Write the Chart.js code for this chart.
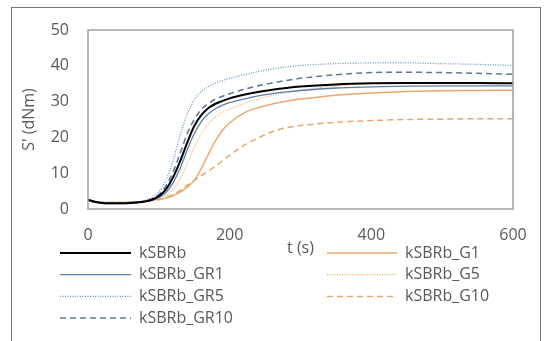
<!DOCTYPE html>
<html>
<head>
<meta charset="utf-8">
<script src="https://cdn.jsdelivr.net/npm/chart.js@4.4.1/dist/chart.umd.min.js"></script>
<style>
  html, body { margin: 0; padding: 0; background: #fff; }
  #wrap { width: 548px; height: 341px; }
</style>
</head>
<body>
<div id="wrap"><canvas id="cureChart" width="548" height="341"></canvas></div>
<script>
// cure curves, torque S' (dNm) against time t (s)
const times = [0, 10, 20, 40, 60, 80, 90, 100, 110, 120, 130, 140, 150, 160, 170, 180, 190, 200, 220, 240, 260, 280, 300, 350, 400, 450, 500, 550, 600];

const kSBRb      = [2.6, 2.0, 1.7, 1.6, 1.7, 2.1, 2.6, 3.6, 5.5, 8.8, 13.3, 18.5, 23.2, 26.2, 28.2, 29.4, 30.2, 30.9, 31.9, 32.7, 33.3, 33.8, 34.2, 34.8, 35.1, 35.2, 35.2, 35.2, 35.1];
const kSBRb_GR1  = [2.4, 1.9, 1.6, 1.5, 1.6, 2.0, 2.4, 3.2, 4.6, 7.3, 11.3, 16.5, 21.0, 24.4, 26.6, 28.0, 29.0, 29.7, 30.7, 31.6, 32.2, 32.7, 33.1, 33.8, 34.1, 34.3, 34.4, 34.4, 34.4];
const kSBRb_GR5  = [2.8, 2.1, 1.8, 1.7, 1.8, 2.4, 3.2, 4.8, 8.0, 13.5, 20.5, 26.5, 30.5, 32.8, 34.2, 35.2, 35.9, 36.5, 37.5, 38.4, 39.1, 39.7, 40.1, 40.6, 40.8, 40.8, 40.6, 40.4, 40.1];
const kSBRb_GR10 = [2.6, 2.0, 1.8, 1.7, 1.8, 2.2, 2.8, 4.0, 6.4, 10.3, 15.5, 21.0, 25.0, 27.8, 29.5, 30.7, 31.5, 32.2, 33.4, 34.4, 35.2, 35.9, 36.5, 37.5, 38.1, 38.2, 38.1, 37.9, 37.6];
const kSBRb_G1   = [2.3, 1.9, 1.8, 1.8, 1.9, 2.2, 2.4, 2.7, 3.1, 3.7, 4.7, 6.1, 8.0, 11.3, 15.3, 19.1, 22.0, 24.1, 26.8, 28.3, 29.3, 30.1, 30.7, 31.8, 32.4, 32.8, 33.0, 33.1, 33.2];
const kSBRb_G5   = [2.4, 1.9, 1.8, 1.8, 1.9, 2.2, 2.5, 3.0, 3.8, 5.4, 8.3, 12.6, 17.2, 21.0, 23.8, 25.7, 27.0, 27.9, 29.4, 30.7, 31.7, 32.5, 33.2, 34.4, 35.0, 35.2, 35.3, 35.3, 35.3];
const kSBRb_G10  = [2.4, 2.0, 1.8, 1.8, 1.9, 2.1, 2.3, 2.6, 3.2, 4.0, 5.2, 6.6, 8.0, 9.3, 10.6, 12.0, 13.5, 15.0, 17.8, 19.8, 21.6, 22.7, 23.3, 24.2, 24.7, 25.0, 25.1, 25.2, 25.2];

const yTicks = [0, 10, 20, 30, 40, 50];
const xTicks = [0, 200, 400, 600];

const textColor = "#595959";
const fontFamily = "'Open Sans', sans-serif";

function pts(values) {
  return values.map((v, i) => ({ x: times[i], y: v }));
}

function series(label, values, color, width, dash) {
  return {
    label: label,
    data: pts(values),
    borderColor: color,
    borderWidth: width,
    borderDash: dash,
    pointRadius: 0,
    fill: false,
    cubicInterpolationMode: "monotone",
  };
}

// legend drawn in two columns like the original, frame around the whole chart
const framePlugin = {
  id: "frame",
  afterDraw(chart) {
    const c = chart.ctx;
    const area = chart.chartArea;
    c.save();
    c.strokeStyle = "#a0a0a0";
    c.lineWidth = 1.5;
    c.setLineDash([]);
    c.strokeRect(area.left, area.top, area.right - area.left, area.bottom - area.top);
    c.strokeStyle = "#767676";
    c.lineWidth = 1;
    c.strokeRect(11.5, 7.5, 529, 345);

    const cols = [
      { x0: 60, x1: 131, tx: 139, y: 253, items: [0, 1, 2, 3] },
      { x0: 327, x1: 397, tx: 405, y: 253, items: [4, 5, 6] },
    ];
    c.font = "16px " + fontFamily;
    c.fillStyle = textColor;
    c.textBaseline = "middle";
    cols.forEach((col) => {
      col.items.forEach((idx, row) => {
        const ds = chart.data.datasets[idx];
        const y = col.y + row * 21.7;
        c.strokeStyle = ds.borderColor;
        c.lineWidth = ds.borderWidth;
        c.setLineDash(ds.borderDash || []);
        c.beginPath();
        c.moveTo(col.x0, y);
        c.lineTo(col.x1, y);
        c.stroke();
        c.fillText(ds.label, col.tx, y);
      });
    });
    c.restore();
  },
};

new Chart(document.getElementById("cureChart"), {
  type: "line",
  data: {
    datasets: [
      series("kSBRb", kSBRb, "#000000", 2, []),
      series("kSBRb_GR1", kSBRb_GR1, "#5b7fa6", 1.3, []),
      series("kSBRb_GR5", kSBRb_GR5, "#5f8cc4", 1.2, [1, 1.5]),
      series("kSBRb_GR10", kSBRb_GR10, "#5c7697", 1.5, [6, 4]),
      series("kSBRb_G1", kSBRb_G1, "#eca96e", 1.5, []),
      series("kSBRb_G5", kSBRb_G5, "#f0aa66", 1.2, [1, 1.5]),
      series("kSBRb_G10", kSBRb_G10, "#e4a86e", 1.5, [6, 4]),
    ],
  },
  options: {
    responsive: false,
    animation: false,
    layout: { padding: { left: 20, right: 35, top: 30, bottom: 83 } },
    plugins: {
      legend: { display: false },
      tooltip: { enabled: false },
    },
    scales: {
      x: {
        type: "linear",
        min: 0,
        max: 600,
        afterBuildTicks: (scale) => { scale.ticks = xTicks.map((v) => ({ value: v })); },
        afterFit: (scale) => { scale.height = 49; },
        grid: { display: false, drawTicks: false },
        border: { display: false },
        ticks: { color: textColor, font: { family: fontFamily, size: 16 }, padding: 17, maxRotation: 0 },
        title: { display: true, text: "t (s)", color: textColor, font: { family: fontFamily, size: 16 }, padding: 0 },
      },
      y: {
        min: 0,
        max: 50,
        afterBuildTicks: (scale) => { scale.ticks = yTicks.map((v) => ({ value: v })); },
        afterFit: (scale) => { scale.width = 68; },
        grid: { display: false, drawTicks: false },
        border: { display: false },
        ticks: { color: textColor, font: { family: fontFamily, size: 16 }, padding: 19 },
        title: { display: true, text: "S' (dNm)", color: textColor, font: { family: fontFamily, size: 16 }, padding: 0 },
      },
    },
  },
  plugins: [framePlugin],
});
</script>
</body>
</html>
